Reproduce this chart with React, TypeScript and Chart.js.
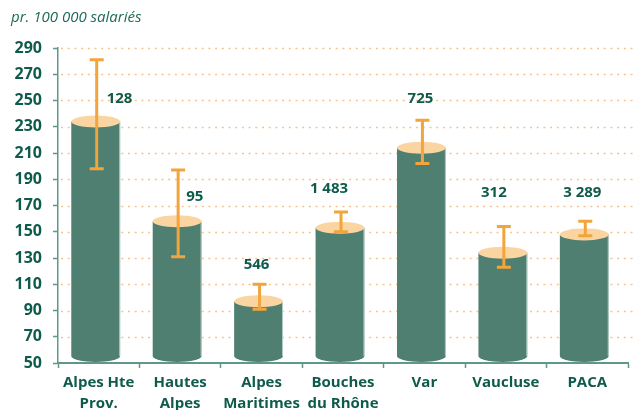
import { useEffect, useRef } from "react";
import { Chart, registerables } from "chart.js";

Chart.register(...registerables);

// ---------- data ----------
const categories: string[][] = [
  ["Alpes Hte", "Prov."],
  ["Hautes", "Alpes"],
  ["Alpes", "Maritimes"],
  ["Bouches", "du Rhône"],
  ["Var"],
  ["Vaucluse"],
  ["PACA"],
];
const rates = [234, 158, 97, 153, 214, 134, 148];
const ciLow = [198, 131, 91, 150, 202, 123, 147];
const ciHigh = [281, 197, 110, 165, 235, 154, 158];
const counts = ["128", "95", "546", "1 483", "725", "312", "3 289"];
const yMin = 50;
const yMax = 290;
const yStep = 20;
const yTitle = "pr. 100 000 salariés";

// ---------- annotation layout (not data) ----------
const labelPlacement = [
  { dx: 10, level: 251, align: "left" },
  { dx: 8, level: 177, align: "left" },
  { dx: -2, level: 125, align: "center" },
  { dx: -11, level: 183, align: "center" },
  { dx: -1, level: 251, align: "center" },
  { dx: -9, level: 180, align: "center" },
  { dx: -2, level: 180, align: "center" },
];

const TEAL = "#0f5b4b";
const AXIS = "#5f978a";
const BAR = "#4e7f70";
const TOP = "#fbd5a1";
const ERR = "#f1a53c";
const GRID = "#f6c48c";
const FONT = "'Open Sans', 'Liberation Sans', sans-serif";

const dotGrid = {
  id: "dotGrid",
  beforeDatasetsDraw(chart: any) {
    const { ctx, chartArea } = chart;
    const y = chart.scales.y;
    ctx.save();
    ctx.strokeStyle = GRID;
    ctx.lineWidth = 1.5;
    ctx.setLineDash([2, 4.7]);
    y.ticks.forEach((t: any) => {
      if (t.value <= yMin) return;
      const py = Math.round(y.getPixelForValue(t.value)) + 0.5;
      ctx.beginPath();
      ctx.moveTo(chartArea.left + 3, py);
      ctx.lineTo(chartArea.right + 8, py);
      ctx.stroke();
    });
    ctx.restore();
  },
};

const cylinders = {
  id: "cylinders",
  afterDatasetsDraw(chart: any) {
    const { ctx } = chart;
    const y = chart.scales.y;
    const meta = chart.getDatasetMeta(0);
    const base = y.getPixelForValue(yMin);
    ctx.save();
    meta.data.forEach((el: any, i: number) => {
      const { x, width } = el.getProps(["x", "width"], true);
      const top = y.getPixelForValue(rates[i]);
      const cx = x - 3;
      const rx = width / 2;
      const ry = 6;
      const by = base - 7;
      // body
      ctx.fillStyle = BAR;
      ctx.beginPath();
      ctx.moveTo(cx - rx, top);
      ctx.lineTo(cx - rx, by);
      ctx.ellipse(cx, by, rx, ry, 0, Math.PI, 0, true);
      ctx.lineTo(cx + rx, top);
      ctx.closePath();
      ctx.fill();
      // light edge
      ctx.strokeStyle = "rgba(220,235,230,0.7)";
      ctx.lineWidth = 1;
      ctx.beginPath();
      ctx.moveTo(cx + rx - 0.5, top);
      ctx.lineTo(cx + rx - 0.5, by);
      ctx.stroke();
      // top ellipse
      ctx.fillStyle = TOP;
      ctx.beginPath();
      ctx.ellipse(cx, top, rx, ry, 0, 0, Math.PI * 2);
      ctx.fill();
      // error bar
      const ex = cx + 1;
      const yh = y.getPixelForValue(ciHigh[i]);
      const yl = y.getPixelForValue(ciLow[i]);
      ctx.strokeStyle = ERR;
      ctx.lineWidth = 3;
      ctx.beginPath();
      ctx.moveTo(ex, yh);
      ctx.lineTo(ex, yl);
      ctx.moveTo(ex - 7, yh);
      ctx.lineTo(ex + 7, yh);
      ctx.moveTo(ex - 7, yl);
      ctx.lineTo(ex + 7, yl);
      ctx.stroke();
      // count label
      const p = labelPlacement[i];
      ctx.fillStyle = TEAL;
      ctx.font = `bold 15px ${FONT}`;
      ctx.textBaseline = "middle";
      if (p.align === "left") {
        ctx.textAlign = "left";
        ctx.fillText(counts[i], ex + p.dx, y.getPixelForValue(p.level));
      } else {
        ctx.textAlign = "center";
        ctx.fillText(counts[i], cx + p.dx, y.getPixelForValue(p.level));
      }
    });
    // y title
    ctx.fillStyle = "#1d6a5a";
    ctx.font = `italic 15px ${FONT}`;
    ctx.textAlign = "left";
    ctx.textBaseline = "middle";
    ctx.fillText(yTitle, 11, 18);
    ctx.restore();
  },
};

export default function App() {
  const ref = useRef<HTMLCanvasElement>(null);
  useEffect(() => {
    if (!ref.current) return;
    const chart = new Chart(ref.current, {
      type: "bar",
      data: {
        labels: categories,
        datasets: [
          {
            data: rates,
            backgroundColor: "rgba(0,0,0,0)",
            borderWidth: 0,
            categoryPercentage: 1,
            barPercentage: 0.6,
          },
        ],
      },
      options: {
        responsive: false,
        animation: false,
        devicePixelRatio: 1,
        layout: { padding: { top: 48, right: 10, left: 0, bottom: 0 } },
        plugins: { legend: { display: false }, tooltip: { enabled: false }, title: { display: false } },
        scales: {
          x: {
            grid: { offset: true, drawOnChartArea: false, drawTicks: true, tickLength: 5, tickColor: AXIS, tickWidth: 1.5 },
            border: { color: AXIS, width: 2 },
            ticks: { color: TEAL, font: { family: FONT, size: 15, weight: "bold", lineHeight: 1.4 }, padding: 4, maxRotation: 0, autoSkip: false },
            afterFit: (s: any) => { s.height = 62; },
          },
          y: {
            min: yMin,
            max: yMax,
            grid: { drawOnChartArea: false, drawTicks: true, tickLength: 5, tickColor: AXIS, tickWidth: 1.5 },
            border: { color: AXIS, width: 1.5 },
            ticks: { stepSize: yStep, color: TEAL, font: { family: FONT, size: 16, weight: "bold" }, padding: 11 },
            afterFit: (s: any) => { s.width = 58; },
          },
        },
      },
      plugins: [dotGrid, cylinders],
    });
    return () => chart.destroy();
  }, []);
  return (
    <div style={{ position: "fixed", left: 0, top: 0, width: 638, height: 410, overflow: "hidden", background: "#fff" }}>
      <canvas ref={ref} width={638} height={425} style={{ display: "block" }} />
    </div>
  );
}
